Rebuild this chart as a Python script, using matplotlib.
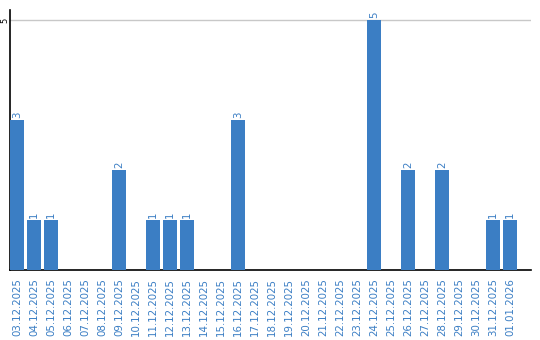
import matplotlib
matplotlib.use("Agg")
import matplotlib.pyplot as plt

dates = ["03.12.2025", "04.12.2025", "05.12.2025", "06.12.2025", "07.12.2025",
         "08.12.2025", "09.12.2025", "10.12.2025", "11.12.2025", "12.12.2025",
         "13.12.2025", "14.12.2025", "15.12.2025", "16.12.2025", "17.12.2025",
         "18.12.2025", "19.12.2025", "20.12.2025", "21.12.2025", "22.12.2025",
         "23.12.2025", "24.12.2025", "25.12.2025", "26.12.2025", "27.12.2025",
         "28.12.2025", "29.12.2025", "30.12.2025", "31.12.2025", "01.01.2026"]
values = [3, 1, 1, 0, 0, 0, 2, 0, 1, 1, 1, 0, 0, 3, 0,
          0, 0, 0, 0, 0, 0, 5, 0, 2, 0, 2, 0, 0, 1, 1]

BLUE = "#3b7ec4"
W, H = 540, 340
fig = plt.figure(figsize=(W / 100, H / 100), dpi=100)
ax = fig.add_axes([10 / W, 70 / H, 521 / W, 260 / H])

x = list(range(len(dates)))
bw = 14 / 17
ax.bar(x, values, width=bw, color=BLUE, zorder=3)
for xi, v in zip(x, values):
    if v > 0:
        ax.text(xi, v + 0.04, str(v), rotation=90, ha="center", va="bottom",
                color=BLUE, fontsize=7.4)

ax.set_xlim(-7 / 17, (531 - 17) / 17)
ax.set_ylim(0, 5.2)
ax.set_yticks([5])
ax.set_yticklabels(["5"], rotation=90, va="center", ha="center", fontsize=6)
ax.tick_params(axis="y", length=0, pad=4)
ax.axhline(5, color="#c8c8c8", lw=1, zorder=1)
ax.set_xticks(x)
ax.set_xticklabels(dates, rotation=90, color=BLUE, fontsize=7.4)
ax.tick_params(axis="x", length=0, pad=6)
for s in ["top", "right"]:
    ax.spines[s].set_visible(False)
ax.spines["left"].set_color("black")
ax.spines["bottom"].set_color("black")
ax.spines["left"].set_linewidth(1.2)
ax.spines["bottom"].set_linewidth(1.2)

fig.savefig("out.png", dpi=100)
